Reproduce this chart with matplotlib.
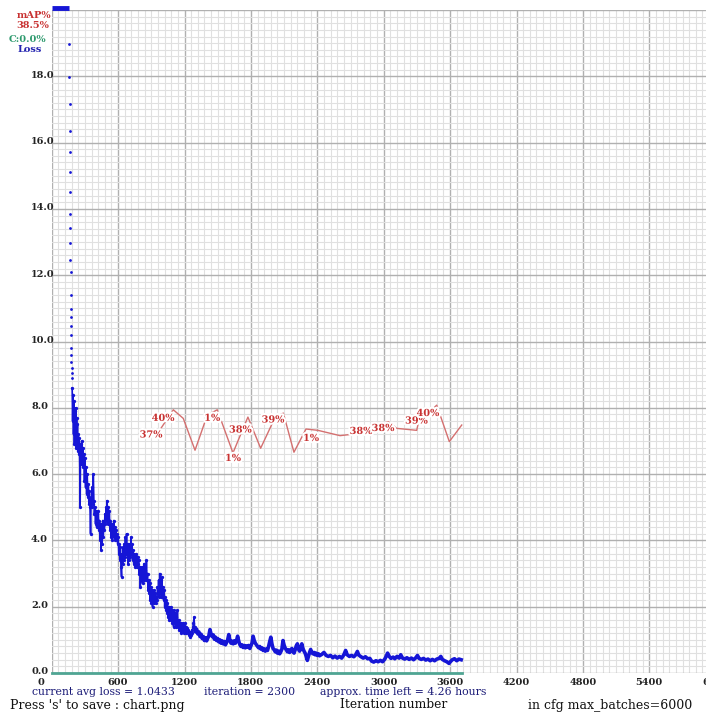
import matplotlib
matplotlib.use('Agg')
import matplotlib.pyplot as plt
import matplotlib.patheffects as pe
import matplotlib.transforms as mtransforms

# ---------------- data ----------------
x_ticks = [0, 600, 1200, 1800, 2400, 3000, 3600, 4200, 4800, 5400, 6000]
x_tick_labels = ['0', '600', '1200', '1800', '2400', '3000', '3600', '4200', '4800', '5400', '6000']
y_ticks = [0, 2, 4, 6, 8, 10, 12, 14, 16, 18, 20]
y_tick_labels = ['0.0', '2.0', '4.0', '6.0', '8.0', '10.0', '12.0', '14.0', '16.0', '18.0', '']

# loss above the top of the chart (clipped)
clip_iter = [0, 160]
clip_loss = [20.05, 20.05]

# sparse early loss points
sparse_iter = [159, 160, 161, 162, 163, 164, 165, 166, 167, 168, 169, 170,
               171, 172, 173, 174, 175, 176, 177, 178, 179, 180, 181]
sparse_loss = [18.97, 17.98, 17.16, 16.35, 15.72, 15.11, 14.51, 13.85, 13.42, 12.97,
               12.46, 12.10, 11.40, 10.98, 10.74, 10.47, 10.20, 9.80, 9.59, 9.38,
               9.20, 9.05, 8.90]

# dense early loss (noisy band)
early_iter = [185, 189, 193, 197, 201, 205, 209, 213, 217, 221, 225, 229, 233, 237, 241, 245,
              249, 253, 257, 261, 266, 271, 276, 281, 286, 291, 296, 301, 306, 311, 316, 321,
              326, 331, 336, 341, 346, 351, 356, 361, 366, 371, 376, 381, 386, 391, 396, 401,
              406, 411, 416, 421, 426, 431, 436, 441, 446, 451, 456, 461, 466, 471, 476, 481,
              486, 491, 496, 501, 506, 511, 516, 521, 526, 531, 536, 541, 546, 551, 556, 561,
              566, 571, 576, 581, 586, 591, 596, 601, 606, 611, 616, 621, 626, 631, 636, 641,
              646, 651, 656, 661, 666, 671, 676, 681, 686, 691, 696, 701, 706, 711, 716, 721,
              726, 731, 736, 741, 746, 751, 756, 761, 766, 771, 776, 781, 786, 791, 796, 801,
              806, 811, 816, 821, 826, 831, 836, 841, 846, 851, 856, 861, 866, 871, 876, 881,
              886, 891, 896, 901, 906, 911, 916, 921, 926, 931, 936, 941, 946, 951, 956, 961,
              966, 971, 976, 981, 986, 991, 996, 1001, 1006, 1011, 1016, 1021, 1026, 1031, 1036, 1041,
              1046, 1051, 1056, 1061, 1066, 1071, 1076, 1081, 1086, 1091, 1096, 1101, 1106, 1111, 1116, 1121,
              1126, 1131, 1136, 1141, 1146, 1151, 1156, 1161, 1166, 1171, 1176, 1181, 1186, 1191, 1196, 1201,
              1206, 1211, 1216, 1221, 1226, 1231, 1236, 1241, 1246, 1251, 1256, 1261, 1266, 1271, 1276, 1281,
              1286, 1291, 1296]
early_loss = [8.6, 7.6, 8.4, 7.2, 8.2, 6.9, 7.9, 7.4, 8.0, 6.8, 7.7, 7.1, 7.5, 6.7, 7.2, 6.6,
              7.1, 6.4, 5.0, 6.9, 6.3, 7.0, 6.4, 6.8, 6.2, 6.6, 5.8, 6.5, 5.6, 6.2, 5.4, 6.0,
              5.3, 5.7, 5.1, 5.5, 5.0, 4.2, 5.3, 5.0, 5.6, 5.1, 6.0, 5.2, 4.8, 5.0, 4.5, 4.9,
              4.4, 4.8, 4.4, 4.9, 4.3, 4.6, 4.0, 4.5, 3.7, 4.4, 3.9, 4.6, 4.1, 4.5, 4.3, 4.8,
              4.5, 5.0, 4.6, 5.2, 4.5, 5.0, 4.6, 4.9, 4.3, 4.6, 4.1, 4.5, 4.0, 4.4, 4.2, 4.6,
              4.1, 4.4, 4.0, 4.3, 4.0, 4.2, 3.9, 4.1, 3.6, 3.9, 3.4, 3.8, 3.2, 2.9, 3.6, 3.3,
              3.8, 3.4, 3.9, 3.5, 4.1, 3.6, 4.2, 3.7, 3.9, 3.3, 3.8, 3.4, 3.9, 3.5, 4.1, 3.6,
              3.9, 3.4, 3.7, 3.3, 3.6, 3.2, 3.5, 3.3, 3.6, 3.2, 3.5, 3.3, 3.4, 3.0, 3.2, 2.6,
              3.1, 2.8, 3.2, 2.7, 3.0, 2.8, 3.3, 2.9, 3.1, 2.8, 3.4, 2.8, 3.0, 2.5, 2.8, 2.4,
              2.7, 2.2, 2.6, 2.1, 2.5, 2.0, 2.4, 2.1, 2.5, 2.2, 2.4, 2.1, 2.3, 2.2, 2.6, 2.4,
              2.8, 2.3, 3.0, 2.4, 2.8, 2.3, 2.9, 2.3, 2.6, 2.2, 2.5, 2.0, 2.3, 1.9, 2.2, 1.8,
              2.1, 1.7, 2.0, 1.6, 1.9, 1.7, 2.0, 1.6, 1.9, 1.5, 1.8, 1.4, 1.9, 1.5, 1.8, 1.4,
              1.7, 1.5, 1.9, 1.4, 1.6, 1.3, 1.5, 1.3, 1.5, 1.2, 1.4, 1.3, 1.5, 1.2, 1.4, 1.3,
              1.5, 1.2, 1.4, 1.3, 1.35, 1.2, 1.3, 1.15, 1.25, 1.1, 1.2, 1.15, 1.3, 1.2, 1.4, 1.5,
              1.69, 1.4, 1.3]

# later loss (thicker continuous band)
late_iter = [1300, 1310, 1320, 1330, 1340, 1350, 1360, 1370, 1380, 1390, 1400, 1410, 1420, 1430,
             1440, 1450, 1460, 1470, 1480, 1490, 1500, 1510, 1520, 1530, 1540, 1550, 1560, 1570,
             1580, 1590, 1600, 1610, 1620, 1630, 1640, 1650, 1660, 1670, 1680, 1690, 1700, 1710,
             1720, 1730, 1740, 1750, 1760, 1770, 1780, 1790, 1800, 1810, 1820, 1830, 1840, 1850,
             1860, 1870, 1880, 1890, 1900, 1910, 1920, 1930, 1940, 1950, 1960, 1970, 1980, 1990,
             2000, 2010, 2020, 2030, 2040, 2050, 2060, 2070, 2080, 2090, 2100, 2110, 2120, 2130,
             2140, 2150, 2160, 2170, 2180, 2190, 2200, 2210, 2220, 2230, 2240, 2250, 2260, 2270,
             2280, 2290, 2300, 2310, 2320, 2330, 2340, 2350, 2360, 2370, 2380, 2390, 2400, 2410,
             2420, 2440, 2460, 2480, 2500, 2520, 2540, 2560, 2580, 2600, 2620, 2640, 2656, 2670,
             2690, 2710, 2730, 2745, 2762, 2775, 2795, 2815, 2835, 2855, 2875, 2890, 2910, 2930,
             2950, 2970, 2990, 3010, 3025, 3035, 3050, 3065, 3085, 3100, 3120, 3140, 3154, 3170,
             3190, 3210, 3230, 3250, 3270, 3290, 3305, 3320, 3340, 3360, 3380, 3400, 3420, 3440,
             3460, 3480, 3500, 3516, 3530, 3550, 3570, 3590, 3605, 3620, 3640, 3660, 3680, 3700]
late_loss = [1.25, 1.32, 1.18, 1.24, 1.10, 1.17, 1.04, 1.10, 0.98, 1.06, 0.97, 1.05, 1.12, 1.31,
             1.18, 1.10, 1.15, 1.02, 1.08, 0.98, 1.04, 0.94, 1.00, 0.90, 0.97, 0.88, 0.95, 0.85,
             0.92, 1.00, 1.16, 0.98, 0.90, 0.96, 0.88, 0.97, 0.90, 0.98, 1.11, 0.96, 0.86, 0.80,
             0.85, 0.77, 0.83, 0.76, 0.82, 0.78, 0.83, 0.74, 0.82, 0.90, 1.11, 0.98, 0.90, 0.85,
             0.80, 0.76, 0.80, 0.72, 0.76, 0.68, 0.73, 0.66, 0.72, 0.68, 0.80, 0.95, 1.08, 0.88,
             0.74, 0.70, 0.64, 0.69, 0.60, 0.66, 0.58, 0.64, 0.72, 0.98, 0.84, 0.75, 0.70, 0.64,
             0.70, 0.62, 0.68, 0.74, 0.64, 0.60, 0.70, 0.82, 0.88, 0.72, 0.66, 0.74, 0.88, 0.74,
             0.66, 0.60, 0.50, 0.38, 0.50, 0.62, 0.71, 0.62, 0.58, 0.62, 0.55, 0.60, 0.53, 0.58,
             0.52, 0.56, 0.62, 0.53, 0.50, 0.53, 0.46, 0.51, 0.45, 0.50, 0.45, 0.55, 0.68, 0.55,
             0.50, 0.53, 0.49, 0.54, 0.65, 0.54, 0.49, 0.45, 0.49, 0.43, 0.44, 0.36, 0.33, 0.37,
             0.34, 0.38, 0.34, 0.42, 0.52, 0.60, 0.50, 0.44, 0.48, 0.43, 0.50, 0.45, 0.55, 0.45,
             0.42, 0.46, 0.41, 0.45, 0.40, 0.46, 0.53, 0.44, 0.41, 0.44, 0.39, 0.42, 0.37, 0.41,
             0.37, 0.42, 0.44, 0.50, 0.41, 0.37, 0.34, 0.29, 0.35, 0.40, 0.43, 0.37, 0.42, 0.40]

# mAP (%) curve
map_iter = [979, 1099, 1189, 1295, 1406, 1496, 1638, 1773, 1888, 2017, 2093, 2189,
            2298, 2406, 2605, 2713, 3041, 3117, 3298, 3313, 3479, 3593, 3705]
map_val = [36.7, 39.7, 38.4, 33.6, 38.9, 39.7, 33.2, 38.6, 33.9, 38.5, 39.2, 33.3,
           36.8, 36.6, 35.8, 36.0, 37.9, 36.9, 36.6, 37.7, 40.4, 34.9, 37.4]

# mAP labels
map_label_text = ['37%', '40%', '1%', '38%', '1%', '39%', '1%', '38%', '38%', '39%', '40%']
map_label_iter = [898, 1007, 1450, 1705, 1638, 2000, 2343, 2795, 2994, 3296, 3400]
map_label_val = [35.9, 38.4, 38.4, 36.65, 32.35, 38.16, 35.37, 36.43, 36.88, 38.0, 39.14]

# contrastive accuracy line (0 %)
acc_iter = [0, 3705]
acc_val = [0, 0]

# ---------------- figure ----------------
W, H = 706, 713
plt.rcParams['font.family'] = ['DejaVu Serif']
fig = plt.figure(figsize=(W / 100, H / 100), dpi=100)
L, R, T, B = 51.7, 715.7, 10.0, 673.0
ax = fig.add_axes([L / W, 1 - B / H, (R - L) / W, (B - T) / H])
ax.set_xlim(0, 6000)
ax.set_ylim(0, 20)

ax.set_xticks(x_ticks)
ax.set_xticklabels(x_tick_labels)
ax.set_yticks(y_ticks)
ax.set_yticklabels(y_tick_labels)
ax.set_xticks([i * 60 for i in range(101)], minor=True)
ax.set_yticks([i * 0.2 for i in range(101)], minor=True)
ax.grid(which='minor', color='#e0e0e0', lw=0.8)
ax.grid(which='major', color='#b0b0b0', lw=1.0)
ax.set_axisbelow(True)
for s in ax.spines.values():
    s.set_visible(False)
ax.tick_params(which='both', length=0)
ax.tick_params(axis='y', pad=(L - 31) * 0.72, labelsize=7, labelcolor='#222222')
ax.tick_params(axis='x', pad=3.5, labelsize=7, labelcolor='#222222')
yshift = mtransforms.ScaledTranslation(0, 2 / 100, fig.dpi_scale_trans)
for lab in ax.get_yticklabels():
    lab.set_horizontalalignment('left')
    lab.set_fontweight('bold')
    lab.set_transform(lab.get_transform() + yshift)
for lab in ax.get_xticklabels():
    lab.set_fontweight('bold')
lab0 = ax.get_xticklabels()[0]
lab0.set_transform(lab0.get_transform() + mtransforms.ScaledTranslation(-11 / 100, 0, fig.dpi_scale_trans))

blue = '#1515d6'
ax.plot(clip_iter, clip_loss, color=blue, lw=3.5, clip_on=False, solid_capstyle='butt', zorder=4)
ax.plot(sparse_iter, sparse_loss, 'o', color=blue, ms=2.0, mew=0, zorder=4)
ax.plot(early_iter, early_loss, '-o', color=blue, lw=1.2, ms=2.4, mew=0, zorder=4)
ax.plot(late_iter, late_loss, '-', color=blue, lw=2.6, zorder=4)
ax.plot([early_iter[-1], late_iter[0]], [early_loss[-1], late_loss[0]], '-', color=blue, lw=1.8, zorder=4)

ax2 = ax.twinx()
ax2.set_ylim(0, 100)
ax2.set_xlim(0, 6000)
ax2.set_axis_off()
ax2.plot(acc_iter, acc_val, color='#4fa593', lw=2, clip_on=False)
ax2.plot(map_iter, map_val, color='#d47070', lw=1.0)
halo = [pe.withStroke(linewidth=3, foreground='white')]
for t, xi, yv in zip(map_label_text, map_label_iter, map_label_val):
    ax2.text(xi, yv, t, color='#c83232', fontsize=7, fontweight='bold', ha='center', va='center',
             path_effects=halo, zorder=5)

# legend texts, top-left
def ftext(x, y, s, **kw):
    fig.text(x / W, 1 - y / H, s, va='center', **kw)

ftext(34, 15, 'mAP%', color='#c83232', fontsize=7, fontweight='bold', ha='center')
ftext(33, 25, '38.5%', color='#c83232', fontsize=7, fontweight='bold', ha='center')
ftext(27, 39, 'C:0.0%', color='#2e9a6e', fontsize=7, fontweight='bold', ha='center')
ftext(30, 50, 'Loss', color='#2424b0', fontsize=7, fontweight='bold', ha='center')

# bottom info texts
navy = '#1c1c78'
ftext(32, 692, 'current avg loss = 1.0433', color=navy, fontsize=7.8, ha='left')
ftext(204, 692, 'iteration = 2300', color=navy, fontsize=7.8, ha='left')
ftext(320, 692, 'approx. time left = 4.26 hours', color=navy, fontsize=7.8, ha='left')
ftext(10, 705, "Press 's' to save : chart.png", color='#111111', fontsize=9, ha='left')
ftext(340, 705, 'Iteration number', color='#111111', fontsize=8.8, ha='left')
ftext(528, 705, 'in cfg max_batches=6000', color='#111111', fontsize=9, ha='left')

fig.savefig('out.png', dpi=100, facecolor='white')
